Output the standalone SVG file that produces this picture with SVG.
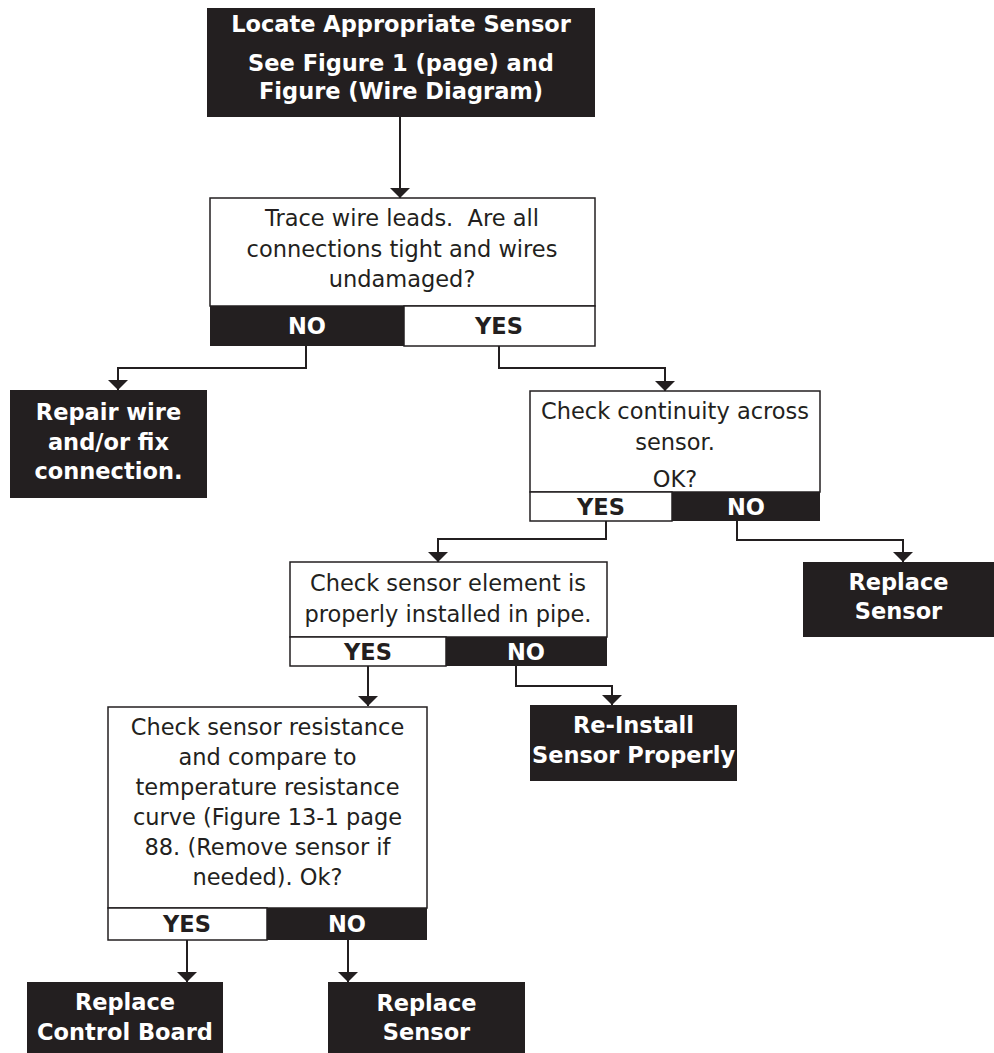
<svg xmlns="http://www.w3.org/2000/svg" width="994" height="1053" viewBox="0 0 994 1053">
<defs>
<style>
.t{font-family:"DejaVu Sans",Verdana,sans-serif;font-size:22.5px;text-anchor:middle}
.b{font-weight:bold}
.w{fill:#ffffff}
.k{fill:#231f20}
.dark{fill:#231f20}
.box{fill:#ffffff;stroke:#231f20;stroke-width:1.5}
.conn{fill:none;stroke:#231f20;stroke-width:2;marker-end:url(#ah)}
</style>
<marker id="ah" viewBox="0 0 10 20" refX="10" refY="10" markerWidth="10" markerHeight="20" markerUnits="userSpaceOnUse" orient="auto">
<path d="M0,0 L10,10 L0,20 Z" fill="#231f20"/>
</marker>
</defs>
<rect width="994" height="1053" fill="#ffffff"/>
<g id="connectors">
<path class="conn" d="M400,117 V198"/>
<path class="conn" d="M306,346 V368 H118 V390"/>
<path class="conn" d="M499,346 V368 H665 V391"/>
<path class="conn" d="M606,521 V539 H438 V562"/>
<path class="conn" d="M737,521 V540 H903 V562"/>
<path class="conn" d="M368,666 V706"/>
<path class="conn" d="M516,666 V686 H612 V705"/>
<path class="conn" d="M187,940 V982"/>
<path class="conn" d="M348,940 V982"/>
</g>
<g id="locate">
<rect class="dark" x="207" y="8" width="388" height="109"/>
<text class="t b w" x="401" y="32">Locate Appropriate Sensor</text>
<text class="t b w" x="401" y="71">See Figure 1 (page) and</text>
<text class="t b w" x="401" y="99">Figure (Wire Diagram)</text>
</g>
<g id="trace">
<rect class="box" x="210" y="198" width="385" height="108"/>
<text class="t k" x="402" y="226" xml:space="preserve" style="white-space:pre">Trace wire leads.  Are all</text>
<text class="t k" x="402" y="257">connections tight and wires</text>
<text class="t k" x="402" y="287">undamaged?</text>
<rect class="dark" x="210" y="306" width="194" height="40"/>
<rect class="box" x="404" y="306" width="191" height="40"/>
<text class="t b w" x="307" y="334">NO</text>
<text class="t b k" x="499" y="334">YES</text>
</g>
<g id="repair">
<rect class="dark" x="10" y="390" width="197" height="108"/>
<text class="t b w" x="108.5" y="420">Repair wire</text>
<text class="t b w" x="108.5" y="450">and/or fix</text>
<text class="t b w" x="108.5" y="479">connection.</text>
</g>
<g id="continuity">
<rect class="box" x="530" y="391" width="290" height="101"/>
<text class="t k" x="675" y="419">Check continuity across</text>
<text class="t k" x="675" y="450">sensor.</text>
<text class="t k" x="675" y="487">OK?</text>
<rect class="box" x="530" y="492" width="142" height="29"/>
<rect class="dark" x="672" y="492" width="148" height="29"/>
<text class="t b k" x="601" y="515">YES</text>
<text class="t b w" x="746" y="515">NO</text>
</g>
<g id="replace-sensor-1">
<rect class="dark" x="803" y="562" width="191" height="75"/>
<text class="t b w" x="898.5" y="590">Replace</text>
<text class="t b w" x="898.5" y="619">Sensor</text>
</g>
<g id="element">
<rect class="box" x="290" y="562" width="317" height="75"/>
<text class="t k" x="448" y="591">Check sensor element is</text>
<text class="t k" x="448" y="622">properly installed in pipe.</text>
<rect class="box" x="290" y="637" width="156" height="29"/>
<rect class="dark" x="446" y="637" width="161" height="29"/>
<text class="t b k" x="368" y="660">YES</text>
<text class="t b w" x="526" y="660">NO</text>
</g>
<g id="reinstall">
<rect class="dark" x="530" y="705" width="207" height="76"/>
<text class="t b w" x="633.5" y="733">Re-Install</text>
<text class="t b w" x="633.5" y="763">Sensor Properly</text>
</g>
<g id="resistance">
<rect class="box" x="108" y="707" width="319" height="201"/>
<text class="t k" x="267.5" y="735">Check sensor resistance</text>
<text class="t k" x="267.5" y="765">and compare to</text>
<text class="t k" x="267.5" y="795">temperature resistance</text>
<text class="t k" x="267.5" y="825">curve (Figure 13-1 page</text>
<text class="t k" x="267.5" y="855">88. (Remove sensor if</text>
<text class="t k" x="267.5" y="885">needed). Ok?</text>
<rect class="box" x="108" y="908" width="159" height="32"/>
<rect class="dark" x="267" y="908" width="160" height="32"/>
<text class="t b k" x="187" y="932">YES</text>
<text class="t b w" x="347" y="932">NO</text>
</g>
<g id="replace-board">
<rect class="dark" x="27" y="982" width="196" height="71"/>
<text class="t b w" x="125" y="1010">Replace</text>
<text class="t b w" x="125" y="1040">Control Board</text>
</g>
<g id="replace-sensor-2">
<rect class="dark" x="328" y="982" width="197" height="71"/>
<text class="t b w" x="426.5" y="1011">Replace</text>
<text class="t b w" x="426.5" y="1040">Sensor</text>
</g>
</svg>
